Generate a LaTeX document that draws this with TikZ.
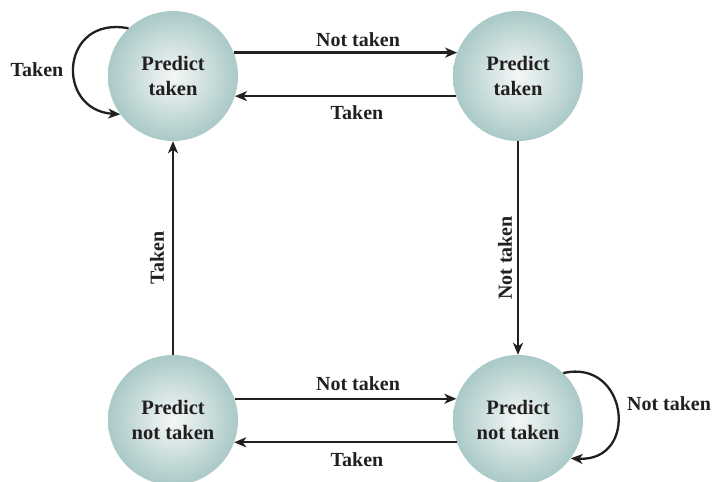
\documentclass[tikz,border=0pt]{standalone}
\usepackage{fontspec}
\setmainfont{Liberation Serif}
\usetikzlibrary{arrows.meta}
\definecolor{ink}{RGB}{35,31,32}
\definecolor{ballin}{RGB}{244,248,247}
\definecolor{ballout}{RGB}{170,201,199}
\tikzset{
  state/.style={circle, minimum size=130pt, inner sep=0pt, shading=radial,
    inner color=ballin, outer color=ballout, align=center, text=ink,
    font=\fontsize{20.5}{24.5}\selectfont\bfseries},
  lbl/.style={text=ink, font=\fontsize{20}{24}\selectfont\bfseries, inner sep=0pt},
  edge/.style={draw=ink, line width=2.3pt, -{Stealth[length=12pt,width=10pt,inset=3.5pt]}}
}
\begin{document}
\begin{tikzpicture}[x=1pt,y=-1pt]
\useasboundingbox (0,0) rectangle (715,482);
\node[state] (tl) at (173,76) {Predict\\taken};
\node[state] (tr) at (518,76) {Predict\\taken};
\node[state] (bl) at (173,420) {Predict\\not taken};
\node[state] (br) at (518,420) {Predict\\not taken};
% top pair
\draw[edge] (tl.21) -- (tr.159);
\draw[edge] (tr.198) -- (tl.-18);
% bottom pair
\draw[edge] (bl.19) -- (br.161);
\draw[edge] (br.200) -- (bl.-20);
% verticals
\draw[edge] (bl.north) -- (tl.south);
\draw[edge] (tr.south) -- (br.north);
% self loops
\draw[edge] (tl.133) .. controls (60,15) and (55,110) .. (tl.216);
\draw[edge] (br.46) .. controls (628,358) and (640,462) .. (br.-36);
% labels
\node[lbl] (l1) at (37,70) {Taken};
\node[lbl] (l2) at (358,40) {Not taken};
\node[lbl] (l3) at (357,113) {Taken};
\node[lbl, rotate=90] (l4) at (157,258) {Taken};
\node[lbl, rotate=90] (l5) at (505,258) {Not taken};
\node[lbl] (l6) at (358,384) {Not taken};
\node[lbl] (l7) at (357,460) {Taken};
\node[lbl] (l8) at (669,404) {Not taken};
\end{tikzpicture}
\end{document}
